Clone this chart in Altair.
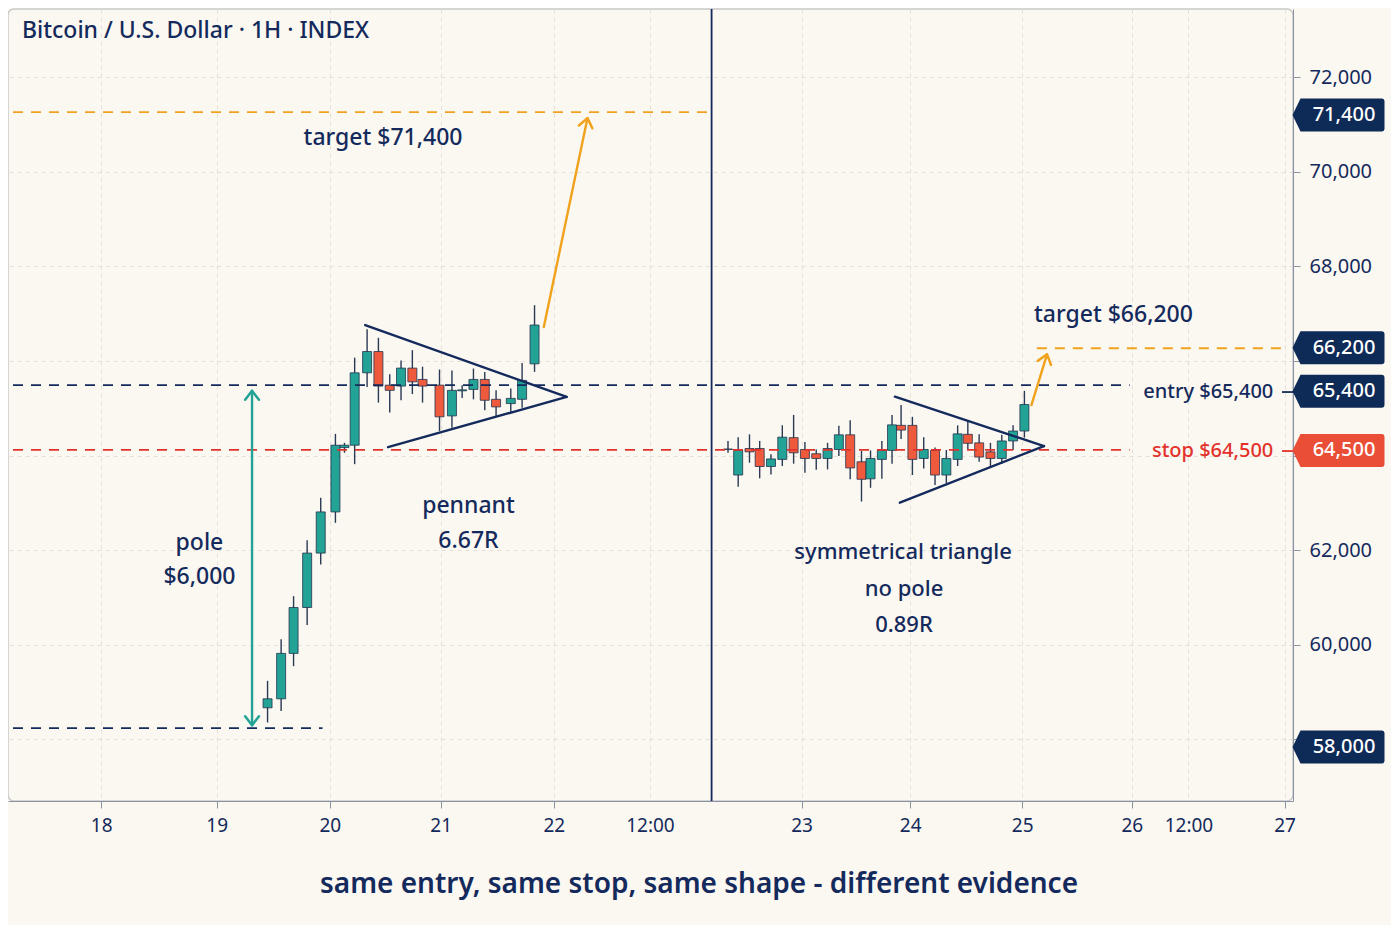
import altair as alt
import pandas as pd

# broken time axis: left session at its own days, right session shifted to sit after the divider
X_TICKS = [18.0, 19.02, 20.02, 21.0, 22.0, 22.85, 24.19, 25.15, 26.14, 27.11, 27.61, 28.46]
X_LABELS = ["18", "19", "20", "21", "22", "12:00", "23", "24", "25", "26", "12:00", "27"]
X_DIVIDER = 23.395
Y_TICKS = [58000, 60000, 62000, 64000, 66000, 68000, 70000, 72000]
Y_HIDDEN = [58000, 64000, 66000]

# left session: pole + pennant
PEN_T = [19.47, 19.59, 19.70, 19.82, 19.94, 20.07, 20.15, 20.24, 20.35, 20.45, 20.55, 20.65,
         20.75, 20.84, 20.99, 21.10, 21.19, 21.29, 21.39, 21.49, 21.62, 21.72, 21.83]
PEN_OPEN = [58670, 58860, 59820, 60790, 61940, 62810, 64170, 64220, 65750, 66200, 65490, 65470,
            65850, 65610, 65490, 64840, 65370, 65400, 65610, 65190, 65100, 65190, 65940]
PEN_HIGH = [59240, 60120, 61030, 62210, 63110, 64460, 64270, 66070, 66670, 66490, 65720, 66010,
            66230, 65880, 65820, 65800, 65490, 65840, 65770, 65380, 65420, 65960, 67180]
PEN_LOW = [58360, 58600, 59550, 60420, 61700, 62580, 64060, 63820, 65450, 65120, 64910, 65170,
           65300, 65120, 64520, 64590, 65220, 65190, 64960, 64820, 64910, 65010, 65770]
PEN_CLOSE = [58860, 59820, 60790, 61940, 62810, 64220, 64220, 65750, 66200, 65470, 65380, 65850,
             65560, 65470, 64820, 65380, 65390, 65610, 65170, 65030, 65210, 65590, 66760]

# right session: symmetrical triangle, no pole
TRI_T = [23.54, 23.63, 23.73, 23.82, 23.92, 24.02, 24.12, 24.22, 24.32, 24.42, 24.52, 24.62, 24.72, 24.80,
         24.90, 24.99, 25.07, 25.17, 25.27, 25.37, 25.47, 25.57, 25.66, 25.76, 25.86, 25.96, 26.06, 26.16]
TRI_OPEN = [64140, 63590, 64150, 64150, 63770, 63920, 64380, 64130, 64040, 63940, 64130, 64440, 63870, 63510,
            63920, 64110, 64640, 64640, 63940, 64110, 63590, 63920, 64450, 64270, 64080, 63940, 64310, 64520]
TRI_HIGH = [64310, 64390, 64450, 64310, 64030, 64640, 64860, 64290, 64130, 64270, 64630, 64750, 64100, 64110,
            64310, 64860, 65070, 64820, 64390, 64170, 64120, 64640, 64720, 64450, 64270, 64440, 64640, 65370]
TRI_LOW = [64060, 63340, 63850, 63520, 63600, 63780, 63830, 63640, 63700, 63710, 63990, 63500, 63030, 63320,
           63510, 63830, 64350, 63590, 63730, 63380, 63420, 63780, 64120, 63870, 63760, 63830, 64120, 64380]
TRI_CLOSE = [64130, 64110, 64080, 63770, 63930, 64390, 64060, 63940, 63940, 64150, 64440, 63740, 63500, 63940,
             64110, 64650, 64540, 63920, 64130, 63590, 63940, 64460, 64260, 63970, 63940, 64310, 64520, 65080]

# levels as drawn
ENTRY = 65490
STOP = 64120
TARGET_PEN = 71260
TARGET_TRI = 66270
POLE_LOW = 58240
POLE_TOP = 65370
POLE_BOTTOM = 58300
POLE_T = 19.333

# price tags on the right axis
TAG_TEXT = ["71,400", "66,200", "65,400", "64,500", "58,000"]
TAG_PRICE = [71200, 66280, 65360, 64110, 57840]
TAG_RED = [False, False, False, True, False]

NAVY = "#142a5c"
TEAL = "#22a395"
RED = "#f05a3c"
RED_TXT = "#e2322b"
ORANGE = "#f1a21d"
BG = "#fbf8f1"
FONT = "Noto Sans"

XS = alt.Scale(domain=[17.22, 28.49], nice=False, zero=False)
YS = alt.Scale(domain=[56700, 73440], nice=False, zero=False)

x_expr = "''"
for v, lab in reversed(list(zip(X_TICKS, X_LABELS))):
    x_expr = f"datum.value == {v} ? '{lab}' : ({x_expr})"
half_days = [v for v, lab in zip(X_TICKS, X_LABELS) if ":" in lab]
no_tick = " || ".join(f"datum.value == {v}" for v in half_days)

X_AXIS = alt.Axis(values=X_TICKS, labelExpr=x_expr, labelFontSize=19, labelColor=NAVY, labelFont=FONT,
                  labelPadding=8, tickSize=7, tickColor="#8a93a3", domainColor="#8a93a3",
                  tickOpacity={"condition": {"test": no_tick, "value": 0}, "value": 1},
                  grid=True, gridColor="#e4e0d8", gridDash=[4, 4], labelFlush=False)
Y_AXIS = alt.Axis(orient="right", values=Y_TICKS,
                  labelExpr=f"indexof({Y_HIDDEN}, datum.value) >= 0 ? '' : format(datum.value, ',')",
                  labelFontSize=20, labelColor=NAVY, labelFont=FONT, labelPadding=9, tickSize=7,
                  tickColor="#8a93a3", domainColor="#8a93a3", grid=True, gridColor="#e4e0d8",
                  gridDash=[4, 4])


def xq(field="t"):
    return alt.X(f"{field}:Q", scale=XS, axis=X_AXIS, title=None)


def yq(field="p"):
    return alt.Y(f"{field}:Q", scale=YS, axis=Y_AXIS, title=None)


left = pd.DataFrame({"t": PEN_T, "open": PEN_OPEN, "high": PEN_HIGH, "low": PEN_LOW, "close": PEN_CLOSE})
right = pd.DataFrame({"t": TRI_T, "open": TRI_OPEN, "high": TRI_HIGH, "low": TRI_LOW, "close": TRI_CLOSE})
candles = pd.concat([left, right], ignore_index=True)
candles["dir"] = ["up" if c >= o else "down" for o, c in zip(candles["open"], candles["close"])]

wicks = alt.Chart(candles).mark_rule(color="#2a3954", strokeWidth=1.4).encode(
    x=xq(), y=yq("low"), y2="high")
bodies = alt.Chart(candles).mark_bar(size=9, stroke="#23344f", strokeWidth=0.8).encode(
    x=xq(), y=yq("open"), y2="close",
    color=alt.Color("dir:N", scale=alt.Scale(domain=["up", "down"], range=[TEAL, RED]), legend=None))

levels = pd.DataFrame({
    "t": [17.22, 17.22, 17.22, 26.27, 17.22],
    "t2": [27.09, 27.09, X_DIVIDER, 28.49, 19.956],
    "p": [ENTRY, STOP, TARGET_PEN, TARGET_TRI, POLE_LOW],
    "c": [NAVY, "#e2322b", ORANGE, ORANGE, NAVY],
})
level_rules = alt.Chart(levels).mark_rule(strokeDash=[10, 8], strokeWidth=1.8).encode(
    x=xq(), x2="t2", y=yq(), color=alt.Color("c:N", scale=None))

divider = alt.Chart(pd.DataFrame({"t": [X_DIVIDER]})).mark_rule(color=NAVY, strokeWidth=1.8).encode(x=xq())

# pennant and triangle boundaries
bounds = pd.DataFrame({
    "t": [20.333, 20.535, 25.015, 25.059],
    "t2": [22.114, 22.114, 26.333, 26.333],
    "p": [66760, 64180, 65245, 63005],
    "p2": [65240, 65240, 64203, 64203],
})
bound_rules = alt.Chart(bounds).mark_rule(color=NAVY, strokeWidth=2.4, strokeCap="round").encode(
    x=xq(), x2="t2", y=yq(), y2="p2")

arrows = pd.DataFrame({
    "t": [21.912, 26.222, POLE_T],
    "t2": [22.298, 26.36, POLE_T],
    "p": [66718, 65069, POLE_BOTTOM],
    "p2": [71134, 66141, POLE_TOP],
    "c": [ORANGE, ORANGE, TEAL],
})
arrow_rules = alt.Chart(arrows).mark_rule(strokeWidth=2.4, strokeCap="round").encode(
    x=xq(), x2="t2", y=yq(), y2="p2", color=alt.Color("c:N", scale=None))

heads = pd.DataFrame({
    "t": [22.298, 26.36, POLE_T, POLE_T],
    "p": [71134, 66141, POLE_TOP, POLE_BOTTOM],
    "ang": [12, 17, 0, 180],
    "c": [ORANGE, ORANGE, TEAL, TEAL],
})
arrow_heads = alt.Chart(heads).mark_point(
    shape="M-1,1.3L0,0L1,1.3", size=190, filled=False, strokeWidth=2.5, opacity=1,
    strokeCap="round", strokeJoin="round").encode(
    x=xq(), y=yq(), angle=alt.Angle("ang:Q", scale=None), stroke=alt.Color("c:N", scale=None))

notes = pd.DataFrame({
    "txt": ["target $71,400", "pole", "$6,000", "pennant", "6.67R", "target $66,200",
            "symmetrical triangle", "no pole", "0.89R"],
    "t": [20.491, 18.868, 18.868, 21.246, 21.246, 26.947, 25.088, 25.096, 25.096],
    "p": [70711, 62153, 61435, 62935, 62196, 66971, 61963, 61181, 60421],
    "fs": [23, 23, 23, 23, 23, 23, 22, 22, 22],
})
note_text = alt.Chart(notes).mark_text(font=FONT, fontWeight=500, color=NAVY, baseline="middle").encode(
    x=xq(), y=yq(), text="txt:N", size=alt.Size("fs:Q", scale=None))

side = pd.DataFrame({
    "txt": ["entry $65,400", "stop $64,500"],
    "t": [28.36, 28.36],
    "p": [65344, 64097],
    "c": [NAVY, RED_TXT],
})
side_text = alt.Chart(side).mark_text(font=FONT, fontWeight=500, fontSize=20, align="right",
                                      baseline="middle").encode(
    x=xq(), y=yq(), text="txt:N", color=alt.Color("c:N", scale=None))
side_links = alt.Chart(side).mark_rule(strokeWidth=1.8).encode(
    x=alt.value(1274), x2=alt.value(1288), y=yq(), color=alt.Color("c:N", scale=None))

tags = pd.DataFrame({"txt": TAG_TEXT, "p": TAG_PRICE,
                     "c": ["#ea4e37" if r else "#0e2a57" for r in TAG_RED]})
tag_shape = "M-4.75,0L-3.95,-1.65L4.15,-1.65Q4.45,-1.65,4.45,-1.35L4.45,1.35Q4.45,1.65,4.15,1.65L-3.95,1.65Z"
tag_boxes = alt.Chart(tags).mark_point(shape=tag_shape, size=400, filled=True, opacity=1).encode(
    x=alt.value(1332), y=yq(), fill=alt.Color("c:N", scale=None))
tag_text = alt.Chart(tags).mark_text(font=FONT, fontWeight=500, fontSize=20, color="white",
                                     baseline="middle").encode(
    x=alt.value(1336), y=yq(), text="txt:N")

heading = alt.Chart(pd.DataFrame({"txt": ["Bitcoin / U.S. Dollar · 1H · INDEX"]})).mark_text(
    font=FONT, fontWeight=500, fontSize=23, color=NAVY, align="left", baseline="middle").encode(
    x=alt.value(14), y=alt.value(22), text="txt:N")
caption = alt.Chart(pd.DataFrame({"txt": ["same entry, same stop, same shape - different evidence"]})).mark_text(
    font=FONT, fontWeight=600, fontSize=28, color=NAVY, align="center", baseline="middle").encode(
    x=alt.value(691), y=alt.value(876), text="txt:N")

chart = alt.layer(
    wicks, bodies, level_rules, divider, bound_rules, arrow_rules, arrow_heads,
    note_text, side_text, side_links, tag_boxes, tag_text, heading, caption,
).properties(
    width=1285, height=792, background=BG,
    padding={"left": 0, "top": 0, "right": 6, "bottom": 26},
).configure_view(
    fill=BG, stroke="#c9c9c9", strokeWidth=1.5, cornerRadius=6,
)

chart.save("out.html", embed_options={"renderer": "svg", "actions": False})
